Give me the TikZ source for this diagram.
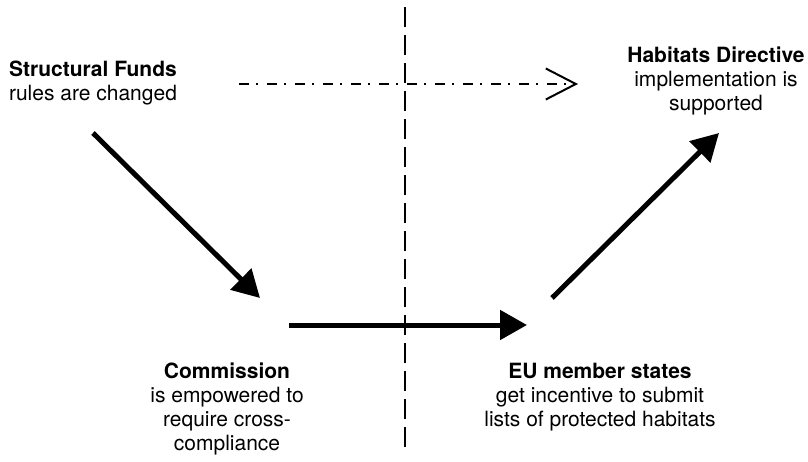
\documentclass[tikz,border=0pt]{standalone}
\usepackage{fontspec}
\setmainfont{TeX Gyre Heros}
\usetikzlibrary{arrows.meta}

\begin{document}
\begin{tikzpicture}[
    x=1pt, y={(0pt,-1pt)},
    txt/.style={align=center, anchor=base, inner sep=0pt, font=\fontsize{21}{24}\selectfont},
    big-arr/.style={line width=5pt, -{Triangle[length=27pt, width=29pt]}},
    dash-dot/.style={line width=2pt, dash pattern=on 10pt off 7pt on 2pt off 9pt, -{Straight Barb[length=30pt, width=31pt, line width=2pt]}},
    split/.style={line width=2.5pt, dash pattern=on 20pt off 8pt}
  ]
  \useasboundingbox (0,0) rectangle (808,462);

  % labels (placed by the baseline of their last line)
  \node[txt] (funds) at (93,101)  {\textbf{Structural Funds}\\rules are changed};
  \node[txt] (habit) at (716,111) {\textbf{Habitats Directive}\\implementation is\\supported};
  \node[txt] (comm)  at (227,450) {\textbf{Commission}\\is empowered to\\require cross-\\compliance};
  \node[txt] (eu)    at (600,426) {\textbf{EU member states}\\get incentive to submit\\lists of protected habitats};

  % arrow ends
  \coordinate (funds-out) at (93,133);
  \coordinate (comm-in)   at (260,298);
  \coordinate (comm-out)  at (289,325);
  \coordinate (eu-in)     at (527,325);
  \coordinate (eu-out)    at (552,298);
  \coordinate (habit-in)  at (719,133);
  \coordinate (short-out) at (239,84);
  \coordinate (short-in)  at (578,84);
  \coordinate (top)       at (405,7);
  \coordinate (bottom)    at (405,452);

  \draw[split] (top) -- (bottom);
  \draw[dash-dot] (short-out) -- (short-in);
  \draw[big-arr] (funds-out) -- (comm-in);
  \draw[big-arr] (comm-out) -- (eu-in);
  \draw[big-arr] (eu-out) -- (habit-in);

\end{tikzpicture}
\end{document}
